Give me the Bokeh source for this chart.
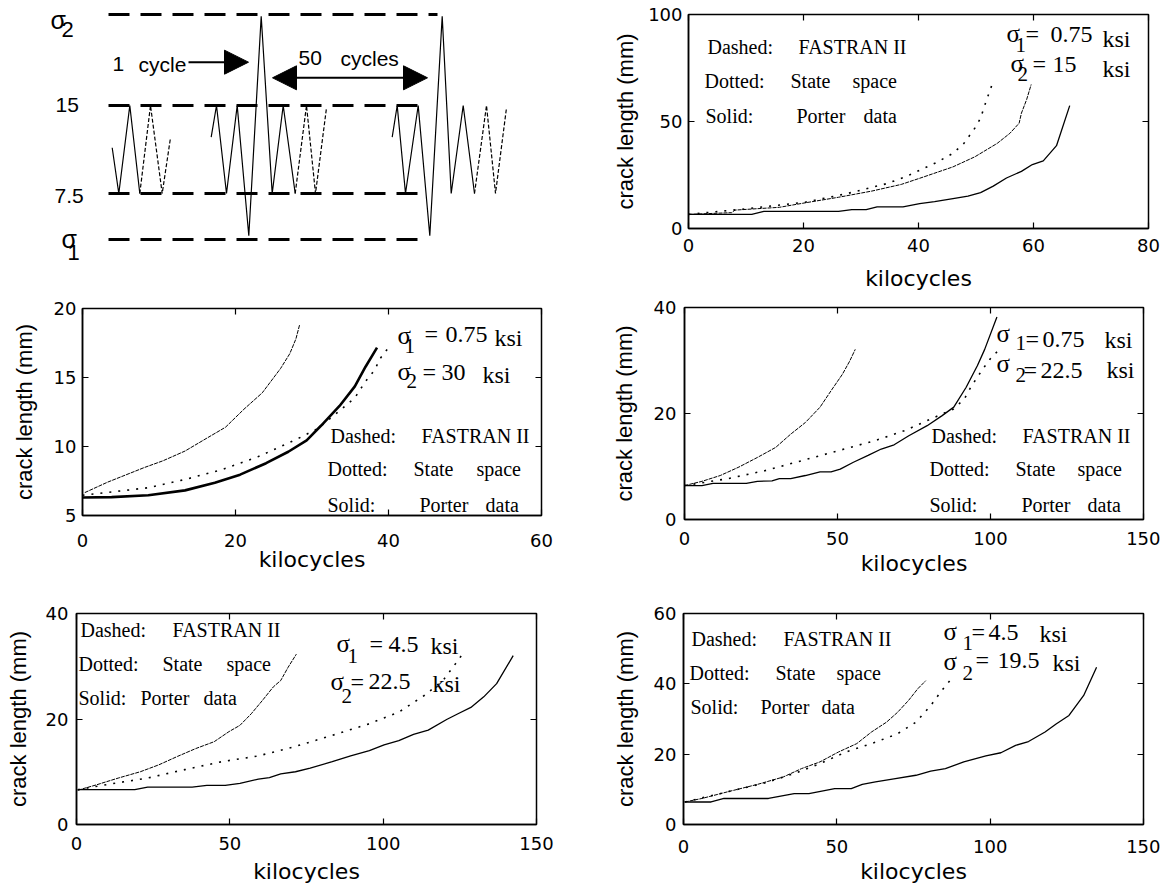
from bokeh.plotting import figure
from bokeh.models import Range1d, LinearAxis, Label, Arrow, NormalHead, FixedTicker, CustomJSTickFormatter
from bokeh.layouts import row, column
from bokeh.embed import file_html
from bokeh.resources import INLINE

SANS = "Liberation Sans"
WIDE = "DejaVu Sans"
SERIF = "Liberation Serif"

# ---------------- data ----------------
# schematic load history (time in arbitrary units, stress in ksi)
lvl_names = ["sigma2", "15", "7.5", "sigma1"]
lvl_stress = [22.76, 15.0, 7.5, 3.58]
lvl_x0 = [108, 108, 108, 108]
lvl_x1 = [437, 428, 422, 428]
w1_t = [111.7, 118.3, 129.3, 139.3]
w1_s = [11.4, 7.5, 15.0, 7.5]
w1d_t = [139.3, 150.0, 161.7, 170.0]
w1d_s = [7.5, 15.0, 7.5, 12.25]
w2_t = [210.7, 216.0, 226.0, 236.7, 248.3, 260.7, 271.7, 282.7, 294.7]
w2_s = [12.3, 15.0, 7.5, 15.0, 3.9, 22.6, 7.5, 15.0, 7.5]
w2d_t = [294.7, 306.0, 315.0, 326.0]
w2d_s = [7.5, 15.0, 7.5, 14.8]
w3_t = [391.7, 396.7, 405.0, 417.7, 429.3, 441.7, 450.7, 462.7, 474.0]
w3_s = [12.3, 15.0, 7.5, 15.0, 3.9, 22.6, 7.5, 15.0, 7.5]
w3d_t = [474.0, 486.0, 495.0, 506.0]
w3d_s = [7.5, 15.0, 7.5, 14.8]

# Panel TR: sigma1 = 0.75, sigma2 = 15 ksi
tr_exp_k = [0, 11.0, 13.1, 26.1, 28.4, 30.9, 32.8, 37.3, 40.2, 42.8, 46.0, 48.6, 50.8, 53.0, 55.3, 57.9, 59.8, 61.7, 64.0, 66.3]
tr_exp_a = [6.6, 6.6, 8.0, 8.0, 8.8, 8.8, 10.1, 10.1, 11.6, 12.6, 14.0, 15.1, 16.8, 19.8, 23.6, 26.7, 29.9, 31.6, 38.7, 57.4]
tr_fas_k = [0, 7.5, 8.1, 15.8, 20.3, 26.1, 31.9, 37.0, 40.9, 46.0, 49.8, 53.7, 55.9, 57.5, 57.9, 58.8, 59.6]
tr_fas_a = [6.6, 7.4, 8.6, 9.9, 12.0, 14.6, 17.5, 20.6, 24.1, 28.8, 33.5, 39.8, 44.5, 49.2, 53.9, 60.2, 67.3]
tr_ss_k = [0, 10.0, 20.3, 27.4, 34.4, 37.7, 40.2, 43.1, 46.0, 47.9, 49.8, 50.8, 51.6, 52.9]
tr_ss_a = [6.6, 9.2, 12.3, 16.2, 20.9, 24.1, 27.2, 30.8, 35.1, 39.8, 46.9, 51.6, 58.2, 68.1]

# Panel ML: sigma1 = 0.75, sigma2 = 30 ksi
ml_exp_k = [0, 3.8, 8.6, 13.4, 17.3, 20.6, 24.0, 26.9, 29.3, 31.2, 33.6, 35.6, 37.0, 38.5]
ml_exp_a = [6.30, 6.33, 6.47, 6.82, 7.37, 7.96, 8.79, 9.62, 10.45, 11.52, 12.94, 14.36, 15.78, 17.16]
ml_fas_k = [0.3, 3.3, 8.1, 10.5, 13.4, 16.3, 18.7, 21.1, 23.5, 25.9, 27.1, 27.9, 28.4]
ml_fas_a = [6.66, 7.42, 8.48, 8.96, 9.67, 10.62, 11.40, 12.70, 13.89, 15.66, 16.73, 17.80, 18.86]
ml_ss_k = [0, 8.6, 13.4, 18.2, 23.0, 27.9, 30.7, 33.6, 35.6, 37.0, 38.2, 38.9, 39.9]
ml_ss_a = [6.47, 7.01, 7.61, 8.32, 9.27, 10.50, 11.28, 12.58, 13.53, 14.72, 15.55, 16.37, 17.09]

# Panel MR: sigma1 = 0.75, sigma2 = 22.5 ksi
mr_exp_k = [0, 5.7, 9.3, 20.2, 23.8, 28.6, 31.0, 34.7, 39.5, 44.3, 47.9, 50.9, 55.2, 60.0, 64.3, 68.5, 73.3, 79.3, 84.2, 88.0, 92.0, 95.7, 98.1, 102.1]
mr_exp_a = [6.4, 6.4, 6.8, 6.8, 7.2, 7.3, 7.7, 7.7, 8.3, 9.0, 9.0, 9.5, 10.8, 12.1, 13.3, 14.1, 15.8, 17.7, 19.6, 21.2, 24.9, 29.0, 32.1, 38.2]
mr_fas_k = [0, 5.7, 11.7, 17.8, 23.8, 29.8, 34.7, 39.5, 44.3, 47.9, 51.6, 54.0, 55.8]
mr_fas_a = [6.4, 7.2, 8.3, 9.9, 11.7, 13.6, 16.1, 18.3, 21.2, 24.3, 27.4, 29.9, 32.1]
mr_ss_k = [0, 14.1, 26.2, 38.3, 50.4, 62.4, 72.1, 81.8, 87.8, 91.4, 93.8, 97.5, 99.9, 102.9]
mr_ss_a = [6.4, 7.7, 9.2, 11.1, 13.0, 14.9, 16.8, 19.3, 20.8, 22.7, 25.2, 28.4, 30.3, 32.1]

# Panel BL: sigma1 = 4.5, sigma2 = 22.5 ksi
bl_exp_k = [0.4, 19.0, 23.2, 37.7, 42.5, 48.5, 53.3, 59.3, 62.9, 66.6, 71.4, 76.2, 83.4, 89.4, 95.5, 100.3, 105.1, 109.9, 114.7, 120.7, 124.4, 128.6, 132.8, 137.0, 142.4]
bl_exp_a = [6.6, 6.6, 7.1, 7.1, 7.4, 7.4, 7.8, 8.6, 8.9, 9.6, 10.0, 10.7, 11.9, 13.0, 14.0, 15.1, 15.9, 17.1, 17.9, 19.9, 21.0, 22.2, 24.2, 26.7, 32.0]
bl_fas_k = [0.4, 6.4, 13.6, 20.8, 26.8, 32.9, 38.9, 44.9, 49.7, 53.3, 57.0, 60.6, 64.2, 66.6, 69.0, 71.7]
bl_fas_a = [6.5, 7.5, 8.8, 10.0, 11.3, 12.9, 14.4, 15.7, 17.6, 18.8, 21.0, 23.5, 26.1, 27.3, 29.8, 32.3]
bl_ss_k = [0.4, 11.2, 23.2, 35.3, 47.3, 59.3, 71.4, 83.4, 95.5, 105.1, 113.5, 119.5, 124.4, 126.2]
bl_ss_a = [6.6, 7.7, 8.8, 10.4, 11.9, 13.0, 14.8, 16.9, 19.1, 21.3, 24.5, 27.3, 31.1, 32.6]

# Panel BR: sigma1 = 4.5, sigma2 = 19.5 ksi
br_exp_k = [0.4, 9.0, 13.2, 27.7, 36.1, 40.9, 49.3, 54.7, 58.3, 62.6, 68.6, 75.8, 80.6, 85.4, 91.4, 98.6, 103.5, 108.3, 112.5, 117.9, 121.5, 125.7, 130.5, 134.7]
br_exp_a = [6.4, 6.4, 7.4, 7.4, 8.8, 8.8, 10.2, 10.2, 11.4, 12.1, 13.0, 14.0, 15.2, 15.9, 17.8, 19.5, 20.4, 22.5, 23.6, 26.3, 28.6, 31.0, 36.7, 44.7]
br_fas_k = [0.4, 6.0, 14.4, 24.1, 32.5, 38.5, 44.5, 50.5, 56.5, 61.3, 66.2, 69.8, 73.4, 76.4, 79.0]
br_fas_a = [6.4, 7.4, 9.3, 11.4, 13.5, 15.9, 17.8, 20.6, 23.0, 26.3, 29.1, 31.9, 35.3, 38.6, 40.9]
br_ss_k = [0.4, 14.4, 26.5, 36.1, 44.5, 52.9, 62.6, 69.8, 75.8, 80.6, 84.2, 87.8]
br_ss_a = [6.4, 9.3, 11.8, 14.5, 17.3, 20.6, 23.4, 25.8, 29.1, 33.8, 38.1, 41.9]


# ---------------- helpers ----------------
def to_data(geom, px, py):
    L, R, T, B, xr, yr = geom
    x = xr[0] + (px - L) / (R - L) * (xr[1] - xr[0])
    y = yr[0] + (B - py) / (B - T) * (yr[1] - yr[0])
    return x, y


def add_texts(p, geom, items):
    # py is the wanted baseline; labels are anchored at the middle of the em box
    for txt, px, py, font, size in items:
        x, y = to_data(geom, px, py - 0.347 * size)
        p.add_layout(Label(x=x, y=y, text=txt, text_font=font, text_font_size=f"{size}px",
                           text_baseline="middle", text_align="left", text_color="black"))


def panel(canvas, frame, xr, yr, xticks, yticks, xstd, ystd):
    cx, cy, w, h = canvas
    L, R, T, B = frame
    p = figure(width=w, height=h, x_range=Range1d(*xr), y_range=Range1d(*yr),
               output_backend="svg", toolbar_location=None, title=None,
               min_border_left=L - cx, min_border_right=cx + w - R,
               min_border_top=T - cy, min_border_bottom=cy + h - B)
    p.grid.visible = False
    p.outline_line_color = "black"
    p.outline_line_width = 1.5
    p.background_fill_color = "white"
    p.border_fill_color = "white"
    xa, ya = p.xaxis[0], p.yaxis[0]
    xa.ticker = FixedTicker(ticks=xticks)
    ya.ticker = FixedTicker(ticks=yticks)
    for ax in (xa, ya):
        ax.major_tick_in = 6
        ax.major_tick_out = 0
        ax.minor_tick_line_color = None
        ax.axis_line_width = 1.5
        ax.axis_line_color = "black"
        ax.major_tick_line_width = 1.2
        ax.major_tick_line_color = "black"
        ax.major_label_text_font = WIDE
        ax.major_label_text_font_size = "18px"
        ax.major_label_text_color = "black"
        ax.axis_label_text_font_style = "normal"
        ax.axis_label_text_color = "black"
    xa.axis_label_text_font = WIDE
    xa.axis_label_text_font_size = "22px"
    ya.axis_label_text_font = SANS
    ya.axis_label_text_font_size = "22px"
    xa.axis_label = "kilocycles"
    ya.axis_label = "crack length (mm)"
    xa.major_label_standoff, xa.axis_label_standoff = xstd
    ya.major_label_standoff, ya.axis_label_standoff = ystd
    for loc, tk in (("above", xticks), ("right", yticks)):
        ax = LinearAxis(ticker=FixedTicker(ticks=tk),
                        formatter=CustomJSTickFormatter(code="return ''"),
                        major_tick_in=6, major_tick_out=0, minor_tick_line_color=None,
                        major_tick_line_width=1.2, major_tick_line_color="black",
                        major_label_text_font_size="0px", major_label_standoff=0,
                        axis_line_color=None)
        p.add_layout(ax, loc)
    geom = (L, R, T, B, xr, yr)
    return p, geom


def curves(p, exp, fas, ss, exp_w=1.3):
    p.line(fas[0], fas[1], line_color="black", line_width=1.0, line_dash="4 1")
    p.line(ss[0], ss[1], line_color="black", line_width=1.6, line_dash="2 7")
    p.line(exp[0], exp[1], line_color="black", line_width=exp_w)


# ---------------- schematic ----------------
px_per_ksi = 88 / 7.5


def sy(py):
    return 15 + (105 - py) / px_per_ksi


sch = figure(width=580, height=280, x_range=Range1d(0, 580), y_range=Range1d(sy(280), sy(0)),
             output_backend="svg", toolbar_location=None, title=None,
             x_axis_location=None, y_axis_location=None, min_border=0)
sch.grid.visible = False
sch.outline_line_color = None
for s, a, b in zip(lvl_stress, lvl_x0, lvl_x1):
    sch.line([a, b], [s, s], line_color="black", line_width=3, line_dash="21 11")
for t, s in ((w1_t, w1_s), (w2_t, w2_s), (w3_t, w3_s)):
    sch.line(t, s, line_color="black", line_width=1.2)
for t, s in ((w1d_t, w1d_s), (w2d_t, w2d_s), (w3d_t, w3d_s)):
    sch.line(t, s, line_color="black", line_width=1.2, line_dash="4 2")

sch.add_layout(Arrow(end=NormalHead(size=24, fill_color="black", line_color="black"),
                     x_start=188, y_start=sy(61.7), x_end=248, y_end=sy(61.7),
                     line_width=2, line_color="black"))
sch.add_layout(Arrow(start=NormalHead(size=24, fill_color="black", line_color="black"),
                     end=NormalHead(size=24, fill_color="black", line_color="black"),
                     x_start=272, y_start=sy(77.3), x_end=427, y_end=sy(77.3),
                     line_width=2, line_color="black"))
sgeom = (0, 580, 0, 280, (0, 580), (sy(280), sy(0)))
add_texts(sch, sgeom, [
    ("σ", 50, 28, SANS, 25), ("2", 61, 37, SANS, 22),
    ("15", 55, 112, SANS, 21),
    ("7.5", 54, 203, SANS, 21),
    ("σ", 61, 247, SANS, 25), ("1", 67, 260, SANS, 22),
    ("1", 112, 71, SANS, 21), ("cycle", 138, 71, SANS, 21),
    ("50", 298, 65, SANS, 21), ("cycles", 340, 65, SANS, 21),
])


# ---------------- panels ----------------
LEG = 20


def legend_block(x0, xa, xb, xc, xd, xe, y1, y2, y3):
    return [("Dashed:", x0[0], y1, SERIF, LEG), ("FASTRAN II", xa, y1, SERIF, LEG),
            ("Dotted:", x0[1], y2, SERIF, LEG), ("State", xb, y2, SERIF, LEG), ("space", xc, y2, SERIF, LEG),
            ("Solid:", x0[2], y3, SERIF, LEG), ("Porter", xd, y3, SERIF, LEG), ("data", xe, y3, SERIF, LEG)]


def sigma_block(s1, s2, v1, v2):
    # each: (sigma_x, sigma_y, sub_x, sub_y, eq_x, value_x, eq_y, ksi_x, ksi_y)
    out = []
    for (sx, syy, bx, byy, ex, vx, ey, kx, ky), sub, val in ((s1, "1", v1), (s2, "2", v2)):
        out += [("σ", sx, syy, SERIF, 25), (sub, bx, byy, SERIF, 21),
                ("=", ex, ey, SERIF, 24), (val, vx, ey, SERIF, 24), ("ksi", kx, ky, SERIF, 24)]
    return out


tr, trg = panel((580, 0, 580, 295), (688, 1148, 14, 228), (0, 80), (0, 100),
                [0, 20, 40, 60, 80], [0, 50, 100], (10, 11), (6, 7))
curves(tr, (tr_exp_k, tr_exp_a), (tr_fas_k, tr_fas_a), (tr_ss_k, tr_ss_a))
add_texts(tr, trg, legend_block((707, 704, 705), 798, 790, 852, 796, 863, 53, 87, 122)
          + sigma_block((1006, 42, 1015, 52, 1025, 1050, 42, 1102, 47),
                        (1010, 72, 1017, 81, 1032, 1052, 72, 1102, 77), "0.75", "15"))

ml, mlg = panel((0, 280, 580, 300), (82, 541, 308, 515), (0, 60), (5, 20),
                [0, 20, 40, 60], [5, 10, 15, 20], (18, -3), (6, 14))
curves(ml, (ml_exp_k, ml_exp_a), (ml_fas_k, ml_fas_a), (ml_ss_k, ml_ss_a), exp_w=2.6)
add_texts(ml, mlg, legend_block((330, 327, 327), 421, 413, 476, 419, 485, 442, 475, 511)
          + sigma_block((397, 344, 404, 353, 424, 445, 342, 494, 346),
                        (397, 380, 406, 388, 422, 441, 380, 482, 383), "0.75", "30"))

mr, mrg = panel((580, 295, 580, 285), (684, 1143, 307, 519), (0, 150), (0, 40),
                [0, 50, 100, 150], [0, 20, 40], (12, 3), (8, 14))
curves(mr, (mr_exp_k, mr_exp_a), (mr_fas_k, mr_fas_a), (mr_ss_k, mr_ss_a))
add_texts(mr, mrg, legend_block((931, 929, 929), 1022, 1015, 1077, 1021, 1087, 442, 475, 511)
          + sigma_block((996, 342, 1015, 350, 1025, 1042, 347, 1104, 348),
                        (996, 372, 1015, 382, 1023, 1040, 378, 1106, 378), "0.75", "22.5"))

bl, blg = panel((0, 580, 580, 306), (76, 536, 613, 825), (0, 150), (0, 40),
                [0, 50, 100, 150], [0, 20, 40], (12, 6), (8, 12))
curves(bl, (bl_exp_k, bl_exp_a), (bl_fas_k, bl_fas_a), (bl_ss_k, bl_ss_a))
add_texts(bl, blg, legend_block((80, 78, 78), 172, 162, 226, 140, 203, 637, 671, 705)
          + sigma_block((336, 652, 347, 663, 369, 388, 652, 430, 654),
                        (330, 690, 341, 703, 350, 368, 690, 432, 692), "4.5", "22.5"))

br, brg = panel((580, 580, 580, 306), (683, 1143, 613, 824), (0, 150), (0, 60),
                [0, 50, 100, 150], [0, 20, 40, 60], (15, 3), (7, 13))
curves(br, (br_exp_k, br_exp_a), (br_fas_k, br_fas_a), (br_ss_k, br_ss_a))
add_texts(br, brg, legend_block((691, 689, 690), 783, 775, 836, 760, 821, 645, 679, 713)
          + sigma_block((943, 640, 962, 650, 971, 988, 640, 1039, 642),
                        (943, 670, 962, 680, 975, 997, 668, 1052, 671), "4.5", "19.5"))

# each figure wrapped on its own so that frames are not aligned across a column
left = column(row(sch), row(ml), row(bl), spacing=0)
right = column(row(tr), row(mr), row(br), spacing=0)
layout = row(left, right, spacing=0)
open("out.html", "w").write(file_html(layout, INLINE))
